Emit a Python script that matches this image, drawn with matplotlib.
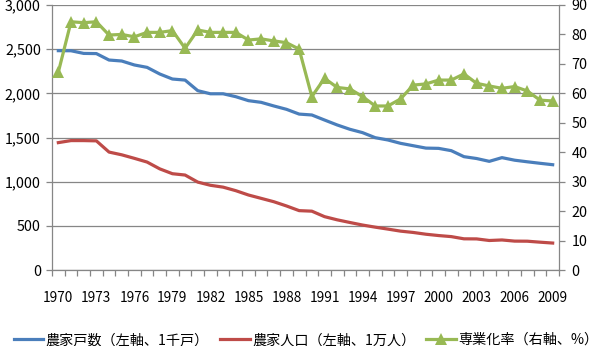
import matplotlib
matplotlib.use("Agg")
import matplotlib.pyplot as plt
from matplotlib.ticker import FuncFormatter, FixedLocator

plt.rcParams['font.family'] = ['Noto Sans CJK JP', 'DejaVu Sans']

years = [1970, 1971, 1972, 1973, 1974, 1975, 1976, 1977, 1978, 1979,
         1980, 1981, 1982, 1983, 1984, 1985, 1986, 1987, 1988, 1989,
         1990, 1991, 1992, 1993, 1994, 1995, 1996, 1997, 1998, 1999,
         2000, 2001, 2002, 2003, 2004, 2005, 2006, 2007, 2008, 2009]

households = [2483, 2482, 2452, 2450, 2377, 2366, 2321, 2294, 2219, 2162,
              2150, 2030, 1995, 1995, 1962, 1917, 1898, 1857, 1819, 1765,
              1755, 1698, 1642, 1593, 1555, 1498, 1472, 1434, 1407, 1380,
              1377, 1351, 1283, 1262, 1230, 1272, 1243, 1225, 1208, 1192]

population = [1442, 1465, 1465, 1462, 1335, 1304, 1264, 1222, 1145, 1090,
              1075, 995, 959, 938, 898, 849, 811, 773, 725, 672,
              666, 604, 568, 538, 509, 485, 463, 440, 425, 405,
              390, 378, 353, 352, 334, 340, 327, 326, 315, 305]

full_time = [67.2, 84.3, 84.0, 84.3, 79.8, 80.0, 79.2, 80.7, 80.7, 81.3,
             75.3, 81.5, 80.7, 80.7, 80.7, 78.1, 78.5, 77.8, 77.2, 75.0,
             58.9, 65.1, 62.0, 61.5, 58.9, 55.7, 55.7, 58.1, 62.8, 63.2,
             64.5, 64.5, 66.6, 63.4, 62.5, 61.7, 62.3, 60.8, 57.7, 57.4]

labels = ['農家戸数（左軸、1千戸）', '農家人口（左軸、1万人）', '専業化率（右軸、%）']

c_blue = '#4A7EBB'
c_red = '#BE4B48'
c_green = '#98B954'
c_grid = '#868686'

fig = plt.figure(figsize=(6.0, 3.46), dpi=100)
ax = fig.add_axes([52/600, 76/346, 507/600, 265/346])
x = list(range(len(years)))

l1, = ax.plot(x, households, color=c_blue, lw=2.3, solid_joinstyle='round', zorder=3)
l2, = ax.plot(x, population, color=c_red, lw=2.3, solid_joinstyle='round', zorder=3)
ax.set_ylim(0, 3000)
ax.set_xlim(-0.5, len(years) - 0.5)
ax.set_yticks([0, 500, 1000, 1500, 2000, 2500, 3000])
ax.yaxis.set_major_formatter(FuncFormatter(lambda v, p: f'{int(v):,}'))
ax.yaxis.grid(True, color=c_grid, lw=0.9)
ax.set_axisbelow(True)

ax.set_xticks([i for i in x if i % 3 == 0])
ax.set_xticklabels([str(years[i]) for i in x if i % 3 == 0])
ax.xaxis.set_minor_locator(FixedLocator([i - 0.5 for i in range(len(years) + 1)]))
ax.tick_params(axis='x', which='major', length=0, pad=15, labelsize=9.8)
ax.tick_params(axis='x', which='minor', length=4, color=c_grid, width=0.9)
ax.tick_params(axis='y', length=4, color=c_grid, width=0.9, labelsize=10.3, pad=4)

for s in ['top', 'right']:
    ax.spines[s].set_visible(False)
for s in ['left', 'bottom']:
    ax.spines[s].set_color(c_grid)
    ax.spines[s].set_linewidth(0.9)

ax2 = ax.twinx()
l3, = ax2.plot(x, full_time, color=c_green, lw=2.3, marker='^', ms=9,
               markeredgewidth=0, solid_joinstyle='round', zorder=3)
ax2.set_ylim(0, 90)
ax2.set_yticks([0, 10, 20, 30, 40, 50, 60, 70, 80, 90])
ax2.tick_params(axis='y', length=4, color=c_grid, width=0.9, labelsize=10.3, pad=5)
for s in ['top', 'left', 'bottom']:
    ax2.spines[s].set_visible(False)
ax2.spines['right'].set_color(c_grid)
ax2.spines['right'].set_linewidth(0.9)

fig.legend([l1, l2, l3], labels, loc='lower center', bbox_to_anchor=(0.51, -0.04),
           ncol=3, frameon=False, fontsize=10.2, handlelength=2.1,
           handletextpad=0.15, columnspacing=0.8)

fig.savefig('out.png', dpi=100)
